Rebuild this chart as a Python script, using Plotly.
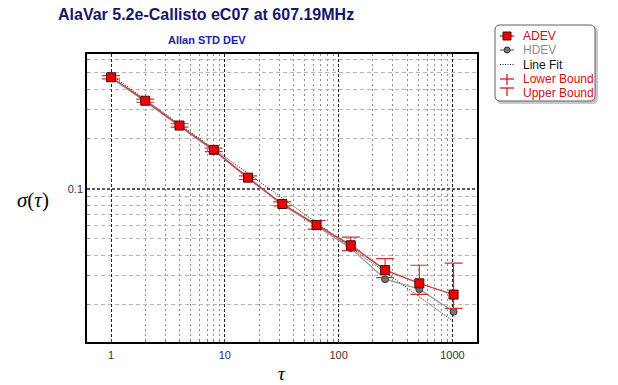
import plotly.graph_objects as go

# ---- data ----
tau = [1, 2, 4, 8, 16, 32, 64, 128, 256, 512, 1024]
adev = [0.471, 0.340, 0.241, 0.172, 0.117, 0.0812, 0.0607, 0.0458, 0.0325, 0.0270, 0.0231]
adev_upper = [0.482, 0.348, 0.247, 0.176, 0.120, 0.0835, 0.0644, 0.0512, 0.0380, 0.0347, 0.0357]
adev_lower = [0.461, 0.333, 0.236, 0.168, 0.114, 0.0790, 0.0572, 0.0425, 0.0292, 0.0232, 0.0191]
hdev = [0.468, 0.337, 0.239, 0.170, 0.116, 0.0800, 0.0598, 0.0440, 0.0286, 0.0249, 0.0182]
fit_tau = [1, 1024]
fit_vals = [0.487, 0.0159]

x_major = [1, 10, 100, 1000]
x_major_text = ["1", "10", "100", "1000"]
x_minor = [2, 3, 4, 5, 6, 7, 8, 9, 20, 30, 40, 50, 60, 70, 80, 90,
           200, 300, 400, 500, 600, 700, 800, 900]
y_major = [0.1]
y_major_text = ["0.1"]
y_minor = [0.02, 0.03, 0.04, 0.05, 0.06, 0.07, 0.08, 0.09, 0.2, 0.3, 0.4, 0.5, 0.6]

legend_names = ["ADEV", "HDEV", "Line Fit", "Lower Bound", "Upper Bound"]
legend_colors = ["#b01818", "#8c8c8c", "#111111", "#cc1010", "#cc1010"]

err_plus = [u - a for u, a in zip(adev_upper, adev)]
err_minus = [a - l for a, l in zip(adev, adev_lower)]

W, H = 618, 385
L, R, T, B = 87, 141, 54, 43
PW, PH = W - L - R, H - T - B


def px(xp, yp):
    """pixel position -> paper coordinates (for layout decorations only)"""
    return (xp - L) / PW, (H - B - yp) / PH


fig = go.Figure()

fig.add_trace(go.Scatter(
    x=fit_tau, y=fit_vals, mode="lines", name="Line Fit", showlegend=False,
    line=dict(color="black", width=1, dash="1px,1.5px")))

fig.add_trace(go.Scatter(
    x=tau, y=hdev, mode="lines+markers", name="HDEV", showlegend=False,
    line=dict(color="#9a9a9a", width=1.3),
    marker=dict(symbol="circle", size=7, color="#707878",
                line=dict(color="#303030", width=1))))

fig.add_trace(go.Scatter(
    x=tau, y=adev, mode="lines+markers", name="ADEV", showlegend=False,
    line=dict(color="#c84848", width=1.5),
    marker=dict(symbol="square", size=9, color="#ee0000",
                line=dict(color="#401010", width=1)),
    error_y=dict(type="data", symmetric=False, array=err_plus,
                 arrayminus=err_minus, color="#d03030",
                 thickness=1.2, width=9)))

shapes = []
annotations = []

# ---- custom legend box (rounded, with shadow) ----
def rounded(x0, y0, x1, y1, r):
    a0, b0 = px(x0, y0)
    a1, b1 = px(x1, y1)
    rx, ry = r / PW, r / PH
    return (f"M {a0+rx},{b0} L {a1-rx},{b0} Q {a1},{b0} {a1},{b0-ry} "
            f"L {a1},{b1+ry} Q {a1},{b1} {a1-rx},{b1} L {a0+rx},{b1} "
            f"Q {a0},{b1} {a0},{b1+ry} L {a0},{b0-ry} Q {a0},{b0} {a0+rx},{b0} Z")

shapes.append(dict(type="path", xref="paper", yref="paper",
                   path=rounded(497, 27, 598, 104, 5),
                   fillcolor="#c8c8c8", line=dict(width=0), layer="above"))
shapes.append(dict(type="path", xref="paper", yref="paper",
                   path=rounded(495, 25, 595, 101, 5),
                   fillcolor="white", line=dict(color="#606060", width=1), layer="above"))

rows = [36, 50, 64.5, 79, 93]
sx0, sx1, sxm = 500, 514, 507
for name, col, ry in zip(legend_names, legend_colors, rows):
    annotations.append(dict(text=name, xref="paper", yref="paper",
                            x=px(521, ry)[0], y=px(521, ry)[1],
                            xanchor="left", yanchor="middle", showarrow=False,
                            font=dict(size=12, color=col,
                                      family="Liberation Sans, Arial, sans-serif")))

def seg(x0, y0, x1, y1, color, width=1, dash="solid"):
    a0, b0 = px(x0, y0)
    a1, b1 = px(x1, y1)
    shapes.append(dict(type="line", xref="paper", yref="paper", x0=a0, y0=b0,
                       x1=a1, y1=b1, line=dict(color=color, width=width, dash=dash),
                       layer="above"))

# ADEV glyph
seg(sx0, rows[0], sx1, rows[0], "#c84848", 1.5)
a0, b0 = px(sxm - 4, rows[0] - 4)
a1, b1 = px(sxm + 4, rows[0] + 4)
shapes.append(dict(type="rect", xref="paper", yref="paper", x0=a0, y0=b0, x1=a1, y1=b1,
                   fillcolor="#ee0000", line=dict(color="#401010", width=1), layer="above"))
# HDEV glyph
seg(sx0, rows[1], sx1, rows[1], "#707070", 1.3)
a0, b0 = px(sxm - 3, rows[1] - 3)
a1, b1 = px(sxm + 3, rows[1] + 3)
shapes.append(dict(type="circle", xref="paper", yref="paper", x0=a0, y0=b0, x1=a1, y1=b1,
                   fillcolor="#707878", line=dict(color="#303030", width=1), layer="above"))
# Line fit glyph
seg(sx0, rows[2], sx1 + 1, rows[2], "#111111", 1, "1px,1.5px")
# Lower bound glyph (cross)
seg(sx0, rows[3], sx1, rows[3], "#cc1010", 1.2)
seg(sxm, rows[3] - 5, sxm, rows[3] + 6, "#cc1010", 1.2)
# Upper bound glyph (T)
seg(sx0, rows[4] - 5, sx1, rows[4] - 5, "#cc1010", 1.2)
seg(sxm, rows[4] - 5, sxm, rows[4] + 3, "#cc1010", 1.2)

# ---- titles ----
tx, ty = px(206, 14)
annotations.append(dict(text="<b>AlaVar 5.2e-Callisto eC07 at 607.19MHz</b>",
                        xref="paper", yref="paper", x=tx, y=ty,
                        xanchor="center", yanchor="middle", showarrow=False,
                        font=dict(size=16, color="#15156a",
                                  family="Liberation Sans, Arial, sans-serif")))
tx, ty = px(207, 40)
annotations.append(dict(text="<b>Allan STD DEV</b>",
                        xref="paper", yref="paper", x=tx, y=ty,
                        xanchor="center", yanchor="middle", showarrow=False,
                        font=dict(size=11, color="#2222a8",
                                  family="Liberation Sans, Arial, sans-serif")))
tx, ty = px(33, 200)
annotations.append(dict(text="<i>σ</i>(<i>τ</i>)",
                        xref="paper", yref="paper", x=tx, y=ty,
                        xanchor="center", yanchor="middle", showarrow=False,
                        font=dict(size=21, color="black",
                                  family="Liberation Serif, DejaVu Serif, serif")))
tx, ty = px(282, 373)
annotations.append(dict(text="<i>τ</i>",
                        xref="paper", yref="paper", x=tx, y=ty,
                        xanchor="center", yanchor="middle", showarrow=False,
                        font=dict(size=19, color="black",
                                  family="Liberation Serif, DejaVu Serif, serif")))

fig.update_layout(
    width=W, height=H,
    margin=dict(l=L, r=R, t=T, b=B),
    paper_bgcolor="white", plot_bgcolor="white",
    font=dict(family="Liberation Sans, Arial, sans-serif", size=11, color="#333333"),
    showlegend=False,
    xaxis=dict(type="log", range=[-0.2109, 3.216],
               tickmode="array", tickvals=x_major, ticktext=x_major_text,
               showgrid=True, gridcolor="#202020", griddash="3px,2px", gridwidth=1,
               showline=True, linecolor="black", linewidth=1.5, mirror=True,
               ticks="inside", ticklen=3, tickcolor="#444444",
               ticklabelstandoff=2,
               tickfont=dict(size=11, color="#333333"),
               minor=dict(tickmode="array", tickvals=x_minor, showgrid=True,
                          gridcolor="#8c8c88", griddash="2px,3px", gridwidth=1,
                          ticks="inside", ticklen=2, tickcolor="#777777"),
               zeroline=False),
    yaxis=dict(type="log", range=[-1.922, -0.187],
               tickmode="array", tickvals=y_major, ticktext=y_major_text,
               showgrid=True, gridcolor="#5a5a5a", griddash="3px,2px", gridwidth=1.5,
               showline=True, linecolor="black", linewidth=1.5, mirror=True,
               ticks="inside", ticklen=3, tickcolor="#444444",
               tickfont=dict(size=11, color="#333333"),
               minor=dict(tickmode="array", tickvals=y_minor, showgrid=True,
                          gridcolor="#b8b8b0", griddash="4px,3px", gridwidth=1,
                          ticks="inside", ticklen=2, tickcolor="#888888"),
               zeroline=False),
    shapes=shapes,
    annotations=annotations,
)

fig.write_html("out.html")
